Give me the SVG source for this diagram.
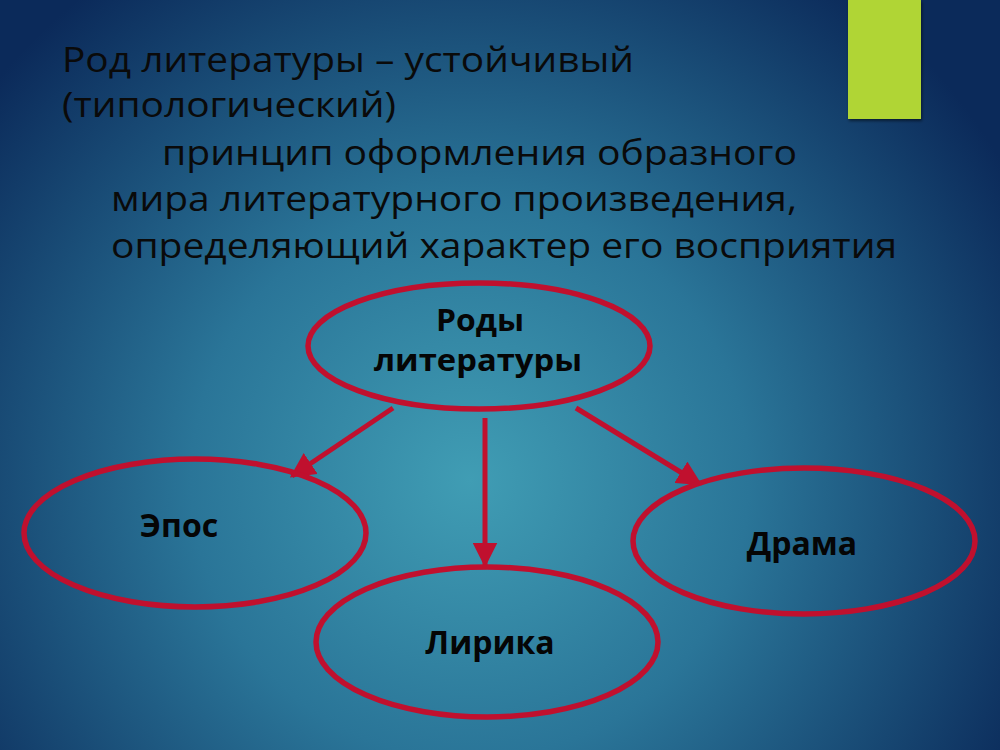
<svg xmlns="http://www.w3.org/2000/svg" width="1000" height="750" viewBox="0 0 1000 750">
<defs>
<radialGradient id="bg" cx="470" cy="480" r="620" gradientUnits="userSpaceOnUse">
<stop offset="0" stop-color="#409db4"/>
<stop offset="0.45" stop-color="#2a7598"/>
<stop offset="1" stop-color="#0b2a5a"/>
</radialGradient>
<marker id="ah" viewBox="0 0 10 10" refX="9" refY="5" markerWidth="5" markerHeight="5" orient="auto" markerUnits="strokeWidth">
<path d="M0,0 L10,5 L0,10 z" fill="#c0102e"/>
</marker>
<filter id="sh" x="-20%" y="-20%" width="140%" height="140%">
<feDropShadow dx="1" dy="2" stdDeviation="1.5" flood-color="#000" flood-opacity="0.5"/>
</filter>
</defs>
<style>
.title{font-family:"Open Sans","Noto Sans",sans-serif;font-size:35px;fill:#0a0a0a}
.node ellipse{fill:none;stroke:#c0102e;stroke-width:5.5}
.lbl{font-family:"Open Sans","Noto Sans",sans-serif;font-size:32px;font-weight:bold;fill:#050505;text-anchor:middle}
.lbl2{font-size:30px}
.conn line{stroke:#c0102e;stroke-width:5;marker-end:url(#ah)}
</style>
<rect x="0" y="0" width="1000" height="750" fill="url(#bg)"/>
<rect x="848" y="0" width="73" height="119" fill="#b0d535" filter="url(#sh)"/>
<g id="title">
<text class="title" x="62" y="72" textLength="572" lengthAdjust="spacingAndGlyphs">Род литературы – устойчивый</text>
<text class="title" x="62" y="117" textLength="334" lengthAdjust="spacingAndGlyphs">(типологический)</text>
<text class="title" x="162" y="165" textLength="635" lengthAdjust="spacingAndGlyphs">принцип оформления образного</text>
<text class="title" x="111" y="211" textLength="686" lengthAdjust="spacingAndGlyphs">мира литературного произведения,</text>
<text class="title" x="111" y="258" textLength="786" lengthAdjust="spacingAndGlyphs">определяющий характер его восприятия</text>
</g>
<g id="connectors" class="conn">
<line x1="393" y1="408" x2="292" y2="476"/>
<line x1="485" y1="418" x2="485" y2="565"/>
<line x1="576" y1="408" x2="700" y2="484"/>
</g>
<g id="rody" class="node">
<ellipse cx="479" cy="346" rx="171" ry="63"/>
<text class="lbl lbl2" x="480" y="331" textLength="88" lengthAdjust="spacingAndGlyphs">Роды</text>
<text class="lbl lbl2" x="478" y="371" textLength="208" lengthAdjust="spacingAndGlyphs">литературы</text>
</g>
<g id="epos" class="node">
<ellipse cx="195" cy="533" rx="171" ry="74"/>
<text class="lbl" x="179" y="537">Эпос</text>
</g>
<g id="lirika" class="node">
<ellipse cx="487" cy="642" rx="171" ry="75"/>
<text class="lbl" x="490" y="654">Лирика</text>
</g>
<g id="drama" class="node">
<ellipse cx="804" cy="541" rx="171" ry="73"/>
<text class="lbl" x="802" y="555">Драма</text>
</g>
</svg>
